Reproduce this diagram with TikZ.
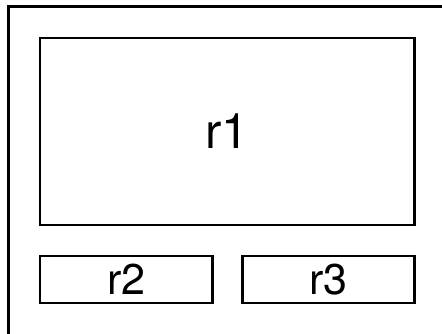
\documentclass[tikz,border=0pt]{standalone}
\usepackage{fontspec}
\setmainfont{TeX Gyre Heros}
\begin{document}
\begin{tikzpicture}[x=1pt,y=-1pt,
  box/.style={draw=black,line width=2.2pt,inner sep=0pt,outer sep=0pt,rectangle}]
\useasboundingbox (0,0) rectangle (442,333);
\clip (0,0) rectangle (442,333);
\draw[line width=2.2pt] (8.5,345) -- (8.5,6.5) -- (460,6.5);
\node[box,minimum width=374.5pt,minimum height=187pt,font=\fontsize{49}{49}\selectfont] (r1) at (227.25,131.5) {r1};
\node[box,minimum width=172.5pt,minimum height=47pt,font=\fontsize{43}{43}\selectfont] (r2) at (126.25,279.5) {r2};
\node[box,minimum width=172pt,minimum height=47pt,font=\fontsize{43}{43}\selectfont] (r3) at (328.5,279.5) {r3};
\end{tikzpicture}
\end{document}
